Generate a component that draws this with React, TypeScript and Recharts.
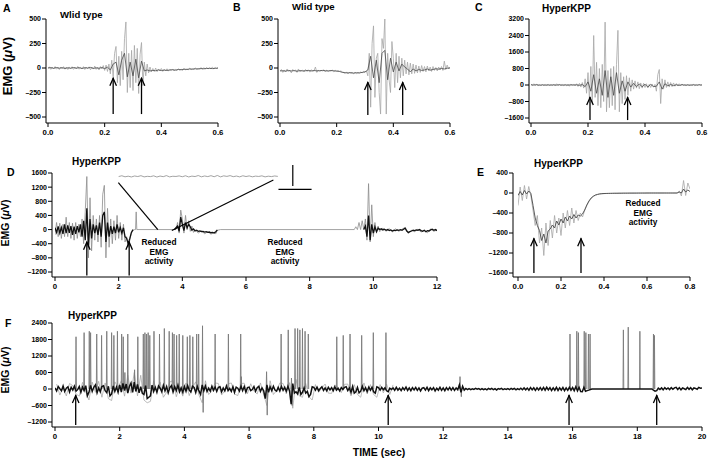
import React from 'react';
import { ComposedChart, Line, XAxis, YAxis, ReferenceLine } from 'recharts';

const FONT = '"Liberation Sans", Arial, Helvetica, sans-serif';

// ---------- Panel A (Wild type) ----------
const aStep = 0.005;
const aLight = [
  -5, 12, -14, 8, -10, 15, -12, 6, -16, 10, -8, 14, -12, 9, -15, 11, -6, 13, -14, 7,
  -10, 16, -12, 5, -9, 14, -15, 10, -7, 12, -18, 9, -11, 20, -14, 8, -20, 15, -10, 25,
  -25, 30, -35, 40, -60,
  80, -90, 150, 220, -150, 120, -180, 170, -120, 300, 470, -250, 150, -200, 180, -230, 230, -150, 200, -260, 140, 260, -180, 60, -80, 40,
  -50, 10, -40, -5, -35, 0, -38, -10, -30, -5, -35, -12, -28, -8, -32, -15, -25, -10, -30, -14,
  -26, -8, -22, -12, -25, -5, -20, -10, -18, -2, -15, -8, -12, 0, -14, -5, -10, 5, -12, 2,
  -8, 6, -10, 3, -6, 8, -9, 4, -5, 6,
];
const aDarkStep = 0.01;
const aDark = [
  0, 4, -3, 5, -2, 3, -4, 2, -3, 5, -2, 4, -5, 3, -1, 6, -4, 2, -3, 5, -6, 8,
  -20, 40, 60, -70, 80, 150, -90, 60, -80, 90, -100, 70, -30, -20,
  -30, -25, -28, -20, -26, -22, -25, -20, -18, -22, -15, -18, -12, -15, -10, -12, -8, -10, -6, -8, -5, -4, -6, -3, -2,
];
const aArrowX = [0.23, 0.33];
const aArrowY = [-470, -100];

// ---------- Panel B (Wild type) ----------
const bLight = [
  -30, -15, -45, -20, -40, -10, -35, -25, -50, -15, -30, -20, -45, -10, -38, -28, -22, -40, -15, -35,
  -25, -42, -18, -32, -28, 10, -45, -20, -35, -25, -30, -18, -40, -22, -35, -28, -30, -20, -38, -25,
  -32, -28, -35, -30, -40, -45, -55, -40, -60, -45, -55, -50, -60, -42, -58, -48, -52, -40, -50, -35,
  -45, -30,
  -80, 150, -400, 250, 430, -300, 100, 150, -250, -470, 300, 200, 500, -470, 150, -120, -250, 270, 100, -200,
  150, -150, 120, -100, 100, -80, 80, -60, 60,
  -70, 50, -60, 40, -55, 30, -50, 20, -45, 25, -35, 15, -40, 20, -30, 10, -35, 15, -25, 5,
  -30, 10, -20, 15, -25, 70, -15, 30, -10, 10,
];
const bDark = [
  -30, -28, -32, -25, -30, -27, -33, -26, -30, -28, -24, -30, -26, -29, -27, -25, -28, -30, -26, -29,
  -32, -35, -45, -48, -50, -47, -52, -48, -50, -45, -40,
  -20, 120, -100, 80, -150, 150, 180, -120, 100, -40, 60, -30, 40, 10, -10,
  -40, -10, -30, -15, -25, -20, -10, -22, -15, -8, -12, -5, -10, -2, 0,
];
const bArrowX = [0.31, 0.433];
const bArrowY = [-480, -143];

// ---------- Panel C (HyperKPP) ----------
const cLight = [
  50, -30, 60, -20, 40, -50, 30, -40, 20, -30, 50, -20, 30, -40, 40, -30, 20, -50, 60, -20,
  30, -40, 50, -30, 20, -40, 40, -60, 30, -20, 50, -40, 60, -70, 80, -100, 120, -150,
  300, -400, 600, -700, 900, -900, 2400, -600, 1100, -1000, 800, -1100, 1000, -800, 3050, -1300, 700, -1100, 800, -1000,
  900, -1200, 1000, 2650, -1300, 600, -900, 400, -700, 450, -500, 350, -300, 250,
  -200, 200, -150, 150, -180, 100, -150, 80, -120, 60, -140, 40, -120, 50, -100, 30,
  -300, 500, 750, -900, 300, -200, 250,
  -120, 150, -100, 120, -80, 100, -60, 70, -50, 60, -40, 50, -30, 40, -50, 30, -40, 50, -20, 30,
  -40, 20, -30, 40, -20, 10,
];
const cDark = [
  10, -5, 15, -10, 8, -12, 5, -8, 10, -6, 12, -10, 6, -8, 10, -5, 8, -15, 20,
  -80, 150, -300, 500, -400, 300, -500, 700, -600, 400, -500, 600, -400, 200, -300, 150, -100, 80,
  -80, 50, -90, 40, -100, 30, -80, -60, 150, -200, 60, -40, 20, -30, 10, -20, 15, -10, 5, -15, 10, -5, 8, 0,
];
const cArrowX = [0.207, 0.339];
const cArrowY = [-1700, -582];

// ---------- Panel D (HyperKPP, 12 s) ----------
const dLight: [number, number | null][] = [
  [0, -150], [0.05, 200], [0.1, -200], [0.15, 180], [0.2, -250], [0.25, 150], [0.3, -200], [0.35, 350], [0.4, -200], [0.45, 200],
  [0.5, -250], [0.55, 180], [0.6, -300], [0.65, 200], [0.7, -250], [0.75, 150], [0.8, -200], [0.85, 300], [0.9, -400], [0.95, 500],
  [1.0, 1500], [1.05, -800], [1.1, 900], [1.15, -600], [1.2, 400], [1.25, -300], [1.3, 300], [1.35, -350], [1.4, 400], [1.45, -500],
  [1.5, 1000], [1.55, 1250], [1.6, -800], [1.65, 600], [1.7, -500], [1.75, 300], [1.8, -400], [1.85, 250], [1.9, -300], [1.95, 400],
  [2.0, -250], [2.05, 200], [2.1, -300], [2.15, 150], [2.2, -350], [2.25, -200], [2.3, -500], [2.35, -300], [2.4, -100], [2.45, -20],
  [2.5, 0], [2.53, 0], [2.55, 500], [2.57, 0], [3.8, 0], [3.85, 200], [3.9, -100], [3.95, 550], [4.0, 300], [4.05, -100],
  [4.1, 400], [4.15, 0], [4.2, 250], [4.25, -50], [4.3, 100], [4.35, -80], [4.4, 0], [4.5, -100], [4.6, -30], [4.7, -120],
  [4.8, -60], [4.9, -130], [5.0, -80], [5.05, -120], [5.1, -20], [5.2, 0], [9.4, 0], [9.45, 80], [9.5, 0], [9.55, 200],
  [9.6, 0], [9.65, 250], [9.7, 0], [9.75, 300], [9.8, -300], [9.85, 1300], [9.9, -350], [9.95, 700], [10.0, -200], [10.05, 200],
  [10.1, -100], [10.15, 100], [10.2, -60], [10.3, 40], [10.4, -50], [10.5, 30], [10.6, -70], [10.7, 20], [10.8, -50], [10.9, 10],
  [11.0, 60], [11.1, -110], [11.2, -20], [11.3, -60], [11.4, 10], [11.5, -70], [11.6, -20], [11.7, -90], [11.8, 20], [11.9, -50],
  [12.0, -10],
];
const dDark: [number, number | null][] = [
  [0, 50], [0.05, -80], [0.1, 90], [0.15, -100], [0.2, 60], [0.25, -120], [0.3, 150], [0.35, -100], [0.4, 120], [0.45, -90],
  [0.5, 100], [0.55, -150], [0.6, 80], [0.65, -120], [0.7, 100], [0.75, -80], [0.8, 150], [0.85, -200], [0.9, 250], [0.95, -300],
  [1.0, 600], [1.05, -500], [1.1, 300], [1.15, -250], [1.2, 150], [1.25, -100], [1.3, 120], [1.35, -150], [1.4, 200], [1.45, -200],
  [1.5, 400], [1.55, 500], [1.6, -350], [1.65, 200], [1.7, -200], [1.75, 100], [1.8, -120], [1.85, 80], [1.9, -100], [1.95, 150],
  [2.0, -80], [2.05, 60], [2.1, -100], [2.15, 50], [2.2, -200], [2.25, -250], [2.3, -400], [2.35, -250], [2.4, -80], [2.45, 0],
  [2.5, null],
  [3.75, 0], [3.8, 50], [3.85, 100], [3.9, -50], [3.95, 350], [4.0, 150], [4.05, -30], [4.1, 200], [4.15, 50], [4.2, 150],
  [4.25, 80], [4.3, -20], [4.35, 20], [4.4, -40], [4.45, -20], [4.5, -50], [4.55, -40], [4.6, -60], [4.65, -50], [4.7, -70],
  [4.75, -60], [4.8, -80], [4.85, -70], [4.9, -90], [4.95, -80], [5.0, -100], [5.05, -60], [5.1, -10],
  [5.15, null],
  [9.7, 0], [9.75, 100], [9.8, -200], [9.85, 400], [9.9, -300], [9.95, 150], [10.0, -100], [10.05, 80], [10.1, -60], [10.15, 40],
  [10.2, 0], [10.25, 20], [10.3, -10], [10.35, 10], [10.4, -20], [10.45, 0], [10.5, -30], [10.55, -10], [10.6, -40], [10.65, -20],
  [10.7, -30], [10.75, -10], [10.8, -20], [10.85, -5], [10.9, -20], [10.95, 10], [11.0, 40], [11.05, -40], [11.1, -80], [11.15, -60],
  [11.2, -40], [11.25, -20], [11.3, -30], [11.35, -10], [11.4, -20], [11.45, 0], [11.5, -30], [11.55, -50], [11.6, -20], [11.65, -60],
  [11.7, -30], [11.75, -40], [11.8, -10], [11.85, 10], [11.9, -20], [11.95, 0], [12.0, -30],
];
const dInsetStart = 2.0;
const dInsetStep = 0.1;
const dInset = [
  1500, 1522, 1492, 1510, 1488, 1516, 1500, 1524, 1490, 1506,
  1498, 1520, 1486, 1514, 1496, 1526, 1490, 1508, 1502, 1518,
  1494, 1522, 1488, 1512, 1500, 1528, 1492, 1516, 1498, 1524,
  1494, 1530, 1490, 1520, 1504, 1526, 1496, 1514, 1490, 1522,
  1500, 1518, 1492, 1512, 1502, 1520, 1490, 1510, 1498, 1516, 1504,
];
// zoom connector lines and scale bar: [x1, y1, x2, y2]
const dGuides = [
  [1.99, 1326, 3.23, 0],
  [6.86, 1402, 3.67, -25],
  [7.47, 1826, 7.47, 1232],
  [7.02, 1139, 8.06, 1139],
];
const dArrowX = [1.0, 2.33];
const dArrowY = [-1300, -343];

// ---------- Panel E (HyperKPP, 0.8 s) ----------
const eStep = 0.01;
const eLight = [
  -250, 120, -150, 150, -120, 130, -60, -350, -650, -450,
  -1000, -700, -1250, -600, -1050, -550, -900, -450, -800, -500,
  -850, -400, -700, -350, -650, -300, -600, -350, -550, -400,
  -480, -350, -250, -170, -110, -70, -45, -30, -20, -15,
  -12, -10, -9, -8, -7, -6, -6, -5, -5, -4,
  -4, -3, -3, -3, -2, -2, -2, -2, -1, -1,
  -1, -1, 0, 0, 0, 0, 0, 0, 0, 0,
  0, 0, 0, 0, 0, 40, -60, 250, -50, 200, 80,
];
const eDark = [
  -50, 30, -40, 50, -20, 40, -10, -250, -500, -650,
  -750, -950, -820, -1000, -760, -720, -640, -700, -560, -640,
  -520, -600, -480, -560, -460, -520, -430, -500, -440, -460,
  -420, -340, -240, -160, -100, -65, -40, -28, -18, -13,
  -10, -9, -8, -7, -6, -5, -5, -4, -4, -3,
  -3, -3, -2, -2, -2, -2, -1, -1, -1, -1,
  0, 0, 0, 0, 0, 0, 0, 0, 0, 0,
  0, 0, 0, 0, 0, 20, 0, 80, 20, 60, 30,
];
const eArrowX = [0.074, 0.293];
const eArrowY = [-1600, -906];

// ---------- Panel F (HyperKPP, 20 s) ----------
const fStep = 0.05;
const fBase = [
  40, -70, 90, 10, -60, 110, -90, 30, 80, -110, 60, -40, 100, -80, -20, 90, -120, 70, -60, 120,
  -250, -120, 130, -90, 60, 150, -140, 40, -100, 90, 120, -60, -130, 100, -250, -180, 110, -90, 70, -120,
  150, -110, 200, -60, 180, -150, 90, 220, -120, 250, -90, 170, -140, 80, -160, -200, 120, -350, -300, -250,
  140, -90, 60, -120, 110, 30, -100, 130, -70, 90, -140, 50, 120, -110, 80, -60, 140, -100, 40, -120,
  90, -80, 120, -40, -110, 100, 60, -130, 90, -70, -200, 150, -60, 110, -90, 30, -80, 100, -50, 70,
  -90, 60, 80, -100, 40, -70, 110, -60, 20, -90, 80, -120, 70, 30, -80, 100, -60, 90, -110, 50,
  70, -60, -20, 90, -80, 50, 100, -90, 40, -60, -350, 150, -120, 80, -60, 100, -40, -80, 60, -70,
  90, -50, 60, -80, 100, -70, -550, 200, -150, -100, -180, 60, -200, -120, 40, -150, -90, -280, -200, 80,
  60, -40, 70, -60, 20, 80, -50, 40, -70, 60, -30, 50, -60, 80, -40, 30, -70, 50, -20, 60,
  80, -60, 40, -120, 90, -150, -100, 60, -140, -80, 100, -60, 50, -90, 70, -40, 60, -100, -150, 80,
  50, -40, 60, -30, 40, -60, -100, 30, -20, 40, -50, 60, -40, 30, -60, 50, -30, 70, -50, 40,
  -60, 50, -30, 60, -50, 40, -70, 30, 50, -40, 60, -60, 40, -30, 50, -70, 30, -40, 60, -50,
  40, -60, 50, -30, 60, -40, 50, -50, 40, -30, 150, -120, 100, -40, 20, -25, 15, -20, 10, -15,
  20, -10, 15, -25, 10, -20, 5, -30, 20, -15, 25, -20, 10, -35, 15, -10, 20, -25, 10, -15,
  15, -20, 25, -10, 20, -30, 15, -20, 30, -25, 40, -30, 35, -40, 50, -30, 45, -50, 40, -35,
  50, -40, 55, -45, 60, -35, 50, -55, 40, -45, 60, -50, 45, -40, 55, -60, 40, -50, 60, -45,
  50, -60, 80, -70, 60, -90, -100, 60, -80, -60, -40, -20, 0, 3, -2, 2, 0, -3, 2, 0,
  2, -2, 0, 3, -2, 0, 2, -3, 0, 2, -2, 3, 0, -2, 2, 0, -3, 2, 0, -2,
  2, 0, -3, 2, 0, -2, 3, 0, -2, 2, -40, -80, -60, 30, -20, 40, -30, 50, -10, 40,
  -20, 50, -10, 40, 60, -20, 50, -30, 40, 10, -20, 60, -10, 50, -30, 40, 20, -10, 60, 30,
  40,
];
const fLightStart = 0.05;
const fLightStep = 0.1;
const fLight = [
  180, -220, 60, -250, 200, 120, -180, -260, 240, -100,
  -400, 250, -120, 280, -300, 220, -350, -420, 260, 60,
  300, -260, 500, -150, 600, -250, 500, -400, -500, -450,
  300, -100, 250, -300, -120, 260, 300, -280, 80, -260,
  220, -240, 60, 260, -220, -500, 300, -200, -80, 220,
  200, -220, -60, 180, 220, -180, -240, 200, 210, -170,
  190, -80, -180, 220, -200, -600, 300, -200, -60, 220,
  200, -180, 230, -700, 350, -250, -300, 200, -280, -400,
  160, -120, 40, 180, -150, -160, 150, 60, -130, 170,
  180, -250, 160, -200, -300, 220, -180, 160, -200, -300,
  160, -140, 180, -200, 150,
];
const fSpikeT = [
  0.65, 0.9, 1.06, 1.1, 1.29, 1.44, 1.6, 1.75, 1.82, 1.93,
  2.06, 2.11, 2.16, 2.25, 2.46, 2.56, 2.73, 2.78, 2.83, 2.88,
  2.93, 3.06, 3.23, 3.38, 3.53, 3.63, 3.68, 3.76, 3.84, 3.95,
  4.09, 4.17, 4.26, 4.38, 4.44, 4.56, 4.58, 4.95, 5.36, 5.74,
  5.76, 6.54, 6.56, 6.99, 7.21, 7.31, 7.33, 7.42, 7.5, 7.57,
  7.65, 7.73, 7.83, 8.71, 8.91, 9.12, 9.48, 9.84, 10.23, 12.52,
  12.56, 15.92, 16.13, 16.18, 16.36, 16.41, 16.49, 16.54, 17.57, 17.72,
  18.08, 18.5, 18.53,
];
const fSpikeH = [
  1900, 2050, 2100, 2050, 2000, 1950, 2100, 2050, 1950, 2100,
  2000, 1900, 600, 2000, 700, 1900, 2000, 2050, 2000, 2050,
  1950, 2100, 2000, 2200, 2100, 2050, 2000, 1950, 2000, 1950,
  1900, 1950, 1900, 2000, 2000, 2300, -850, 2000, 2000, 2000,
  450, 630, -950, 2000, 2150, 400, -600, 2200, 2200, 2150,
  2200, 2100, 2000, 1900, 1950, 2000, 1950, 2050, 2050, 450,
  -280, 2000, 2100, 2050, 2100, 2050, 2000, 2000, 2150, 2250,
  2100, 2000, 1950,
];
const fArrowX = [0.64, 10.3, 15.89, 18.6];
const fArrowY = [-1310, -218];

// ---------- tick labels ----------
const xTicks06 = [0, 0.2, 0.4, 0.6];
const xTicks08 = [0, 0.2, 0.4, 0.6, 0.8];
const xTicksD = [0, 2, 4, 6, 8, 10, 12];
const xTicksF = [0, 2, 4, 6, 8, 10, 12, 14, 16, 18, 20];
const yTicksAB = [-500, -250, 0, 250, 500];
const yTicksC = [-1600, -800, 0, 800, 1600, 2400, 3200];
const yTicksD = [-1200, -800, -400, 0, 400, 800, 1200, 1600];
const yTicksE = [-1600, -1200, -800, -400, 0, 400];
const yTicksF = [-1200, -600, 0, 600, 1200, 1800, 2400];

// ---------- helpers ----------
const seq = (vals: number[], step: number, start = 0) =>
  vals.map((v, i) => ({ t: Math.round((start + i * step) * 10000) / 10000, v }));
const pairs = (arr: [number, number | null][]) => arr.map(([t, v]) => ({ t, v }));
const spikes = (ts: number[], hs: number[]) => {
  const out: { t: number; v: number | null }[] = [];
  ts.forEach((t, i) => {
    out.push({ t: t - 0.012, v: 0 }, { t, v: hs[i] }, { t: t + 0.012, v: 0 }, { t: t + 0.013, v: null });
  });
  return out;
};
const fmt1 = (v: number) => v.toFixed(1);
const fmtInt = (v: number) => String(v);
const fmtY = (v: number) => (v < 0 ? '\u2013' + Math.abs(v) : String(v));

const arrowShape = (p: any) => {
  const { x1, y1, x2, y2 } = p;
  const tip = y1 < y2 ? { x: x1, y: y1 } : { x: x2, y: y2 };
  const base = y1 < y2 ? { x: x2, y: y2 } : { x: x1, y: y1 };
  return (
    <g>
      <line x1={base.x} y1={base.y} x2={tip.x} y2={tip.y} stroke="#000" strokeWidth={1.3} />
      <polyline
        points={`${tip.x - 3.3},${tip.y + 8} ${tip.x},${tip.y + 0.5} ${tip.x + 3.3},${tip.y + 8}`}
        fill="none"
        stroke="#000"
        strokeWidth={1.3}
      />
    </g>
  );
};
const guideShape = (p: any) => (
  <line x1={p.x1} y1={p.y1} x2={p.x2} y2={p.y2} stroke="#000" strokeWidth={1.2} />
);

const renderArrows = (xs: number[], ys: number[]) =>
  xs.map((x, i) => (
    <ReferenceLine
      key={'ar' + i}
      segment={[{ x, y: ys[0] }, { x, y: ys[1] }]}
      ifOverflow="visible"
      shape={arrowShape}
    />
  ));

const LIGHT = '#a6a6a6';
const DARK = '#4a4a4a';

const lineProps = {
  dataKey: 'v',
  dot: false,
  activeDot: false,
  isAnimationActive: false,
  type: 'linear' as const,
  connectNulls: false,
};

function Panel(p: any) {
  return (
    <div style={{ position: 'absolute', left: p.left, top: p.top, width: p.width, height: p.height }}>
      <ComposedChart width={p.width} height={p.height} margin={{ top: p.mTop, right: p.mRight, left: 0, bottom: 0 }}>
        <XAxis
          type="number"
          dataKey="t"
          domain={p.xDomain}
          ticks={p.xTicks}
          tickFormatter={p.xFmt}
          interval={0}
          allowDataOverflow
          padding={{ left: p.padL, right: 0 }}
          height={p.xHeight}
          tickSize={4}
          tickMargin={2}
          axisLine={{ stroke: '#000', strokeWidth: 1 }}
          tickLine={{ stroke: '#000', strokeWidth: 1 }}
          tick={{ fontSize: 7.8, fontWeight: 700, fill: '#000', fontFamily: FONT }}
        />
        <YAxis
          type="number"
          domain={p.yDomain}
          ticks={p.yTicks}
          tickFormatter={fmtY}
          interval={0}
          allowDataOverflow
          padding={{ top: 0, bottom: p.padB }}
          width={p.yWidth}
          tickSize={4}
          tickMargin={1}
          axisLine={{ stroke: '#000', strokeWidth: 1 }}
          tickLine={{ stroke: '#000', strokeWidth: 1 }}
          tick={{ fontSize: 7, fontWeight: 700, fill: '#000', fontFamily: FONT }}
        />
        {p.children}
      </ComposedChart>
    </div>
  );
}

export default function App() {
  return (
    <div style={{ position: 'absolute', left: 0, top: 0, width: 709, height: 460, background: '#fff', overflow: 'hidden' }}>
      {/* A */}
      <Panel left={0} top={0} width={230} height={145} mTop={19} mRight={12} yWidth={46} padL={2} padB={6} xHeight={22}
        xDomain={[0, 0.6]} xTicks={xTicks06} xFmt={fmt1} yDomain={[-500, 500]} yTicks={yTicksAB}>
        <Line {...lineProps} data={seq(aLight, aStep)} stroke={LIGHT} strokeWidth={0.8} />
        <Line {...lineProps} data={seq(aDark, aDarkStep)} stroke={DARK} strokeWidth={0.8} />
        {renderArrows(aArrowX, aArrowY)}
      </Panel>
      {/* B */}
      <Panel left={232} top={0} width={230} height={145} mTop={19} mRight={12} yWidth={46} padL={2} padB={6} xHeight={22}
        xDomain={[0, 0.6]} xTicks={xTicks06} xFmt={fmt1} yDomain={[-500, 500]} yTicks={yTicksAB}>
        <Line {...lineProps} data={seq(bLight, aStep)} stroke={LIGHT} strokeWidth={0.8} />
        <Line {...lineProps} data={seq(bDark, aDarkStep)} stroke={DARK} strokeWidth={0.8} />
        {renderArrows(bArrowX, bArrowY)}
      </Panel>
      {/* C */}
      <Panel left={470} top={0} width={239} height={145} mTop={19} mRight={7} yWidth={59} padL={2} padB={5} xHeight={22}
        xDomain={[0, 0.6]} xTicks={xTicks06} xFmt={fmt1} yDomain={[-1600, 3200]} yTicks={yTicksC}>
        <Line {...lineProps} data={seq(cLight, aStep)} stroke={LIGHT} strokeWidth={0.8} />
        <Line {...lineProps} data={seq(cDark, aDarkStep)} stroke={DARK} strokeWidth={0.8} />
        {renderArrows(cArrowX, cArrowY)}
      </Panel>
      {/* D */}
      <Panel left={0} top={150} width={445} height={145} mTop={23} mRight={8} yWidth={52} padL={3} padB={5} xHeight={18}
        xDomain={[0, 12]} xTicks={xTicksD} xFmt={fmtInt} yDomain={[-1200, 1600]} yTicks={yTicksD}>
        <Line {...lineProps} data={pairs(dLight)} stroke="#8c8c8c" strokeWidth={0.8} />
        <Line {...lineProps} data={pairs(dDark)} stroke="#111" strokeWidth={1.3} />
        <Line {...lineProps} data={seq(dInset, dInsetStep, dInsetStart)} stroke="#8c8c8c" strokeWidth={0.8} />
        {dGuides.map((g, i) => (
          <ReferenceLine key={'g' + i} segment={[{ x: g[0], y: g[1] }, { x: g[2], y: g[3] }]} ifOverflow="visible" shape={guideShape} />
        ))}
        {renderArrows(dArrowX, dArrowY)}
      </Panel>
      {/* E */}
      <Panel left={470} top={150} width={239} height={145} mTop={23} mRight={19} yWidth={43} padL={5} padB={4} xHeight={18}
        xDomain={[0, 0.8]} xTicks={xTicks08} xFmt={fmt1} yDomain={[-1600, 400]} yTicks={yTicksE}>
        <Line {...lineProps} data={seq(eLight, eStep)} stroke={LIGHT} strokeWidth={0.8} />
        <Line {...lineProps} data={seq(eDark, eStep)} stroke={DARK} strokeWidth={0.9} />
        {renderArrows(eArrowX, eArrowY)}
      </Panel>
      {/* F */}
      <Panel left={0} top={300} width={709} height={160} mTop={23} mRight={7} yWidth={52} padL={3} padB={5} xHeight={33}
        xDomain={[0, 20]} xTicks={xTicksF} xFmt={fmtInt} yDomain={[-1200, 2400]} yTicks={yTicksF}>
        <Line {...lineProps} data={seq(fLight, fLightStep, fLightStart)} stroke="#a0a0a0" strokeWidth={0.7} />
        <Line {...lineProps} data={spikes(fSpikeT, fSpikeH)} stroke="#7a7a7a" strokeWidth={0.9} />
        <Line {...lineProps} data={seq(fBase, fStep)} stroke="#111" strokeWidth={1.5} />
        {renderArrows(fArrowX, fArrowY)}
      </Panel>

      <svg width={709} height={460} style={{ position: 'absolute', left: 0, top: 0, pointerEvents: 'none' }}
        fontFamily={FONT} fontWeight="bold" fill="#000">
        <text x={3} y={12} fontSize={10.5}>A</text>
        <text x={60} y={18} fontSize={9.6}>Wlid type</text>
        <text x={233} y={10.5} fontSize={10.5}>B</text>
        <text x={292} y={10} fontSize={9.6}>Wlid type</text>
        <text x={475} y={11} fontSize={10.5}>C</text>
        <text x={542} y={12} fontSize={10}>HyperKPP</text>
        <text x={7} y={176} fontSize={10.5}>D</text>
        <text x={72} y={165} fontSize={10}>HyperKPP</text>
        <text x={477} y={176} fontSize={10.5}>E</text>
        <text x={534} y={167} fontSize={10}>HyperKPP</text>
        <text x={5} y={327} fontSize={10.5}>F</text>
        <text x={68} y={319} fontSize={10}>HyperKPP</text>

        <text x={12} y={66} fontSize={13} textAnchor="middle" transform="rotate(-90 12 66)">
          EMG (<tspan fontStyle="italic">μ</tspan>V)
        </text>
        <text x={8.5} y={223} fontSize={10.5} textAnchor="middle" transform="rotate(-90 8.5 223)">
          EMG (<tspan fontStyle="italic">μ</tspan>V)
        </text>
        <text x={8.5} y={370} fontSize={10.5} textAnchor="middle" transform="rotate(-90 8.5 370)">
          EMG (<tspan fontStyle="italic">μ</tspan>V)
        </text>

        <g fontSize={8.3} textAnchor="middle">
          <text x={159} y={244.5}>Reduced</text>
          <text x={159} y={255}>EMG</text>
          <text x={159} y={263.5}>activity</text>
          <text x={285} y={244.5}>Reduced</text>
          <text x={285} y={255}>EMG</text>
          <text x={285} y={263.5}>activity</text>
          <text x={643} y={206}>Reduced</text>
          <text x={643} y={216}>EMG</text>
          <text x={643} y={225}>activity</text>
        </g>
        <text x={379} y={456} fontSize={10.5} textAnchor="middle">TIME (sec)</text>
      </svg>
    </div>
  );
}
